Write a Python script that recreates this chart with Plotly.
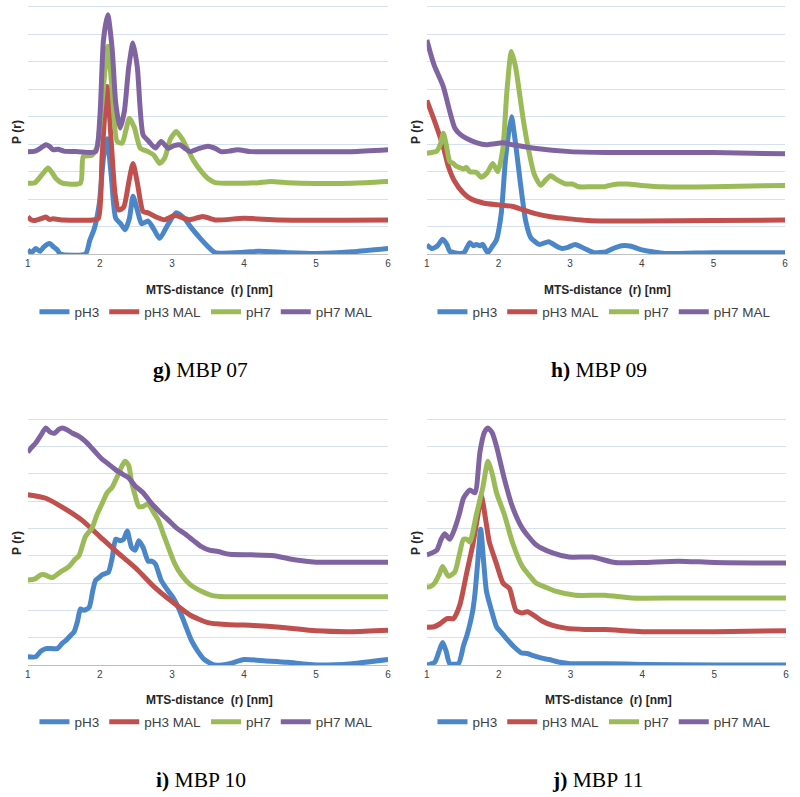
import plotly.graph_objects as go

series_names = ["pH3", "pH3 MAL", "pH7", "pH7 MAL"]
series_colors = ["#4A86C8", "#C0504D", "#9BBB59", "#8064A2"]
x_ticks = [1, 2, 3, 4, 5, 6]

# ---- g) MBP 07 ----
g_pH3_x = [1.0, 1.05, 1.11, 1.17, 1.22, 1.3, 1.36, 1.41, 1.45, 1.8, 1.86, 1.92, 1.99, 2.05, 2.1, 2.16, 2.22, 2.29, 2.35, 2.41, 2.46, 2.52, 2.58, 2.67, 2.75, 2.83, 2.95, 3.06, 3.17, 3.27, 3.4, 3.5, 3.6, 4.0, 4.2, 4.6, 5.0, 5.5, 6.0]
g_pH3_y = [0.15, 0.05, 0.2, 0.1, 0.25, 0.38, 0.25, 0.15, 0.0, 0.0, 0.5, 0.9, 1.8, 3.5, 4.2, 2.8, 1.3, 1.1, 0.88, 1.3, 2.1, 1.6, 1.1, 1.2, 0.9, 0.57, 1.1, 1.5, 1.3, 0.95, 0.55, 0.27, 0.05, 0.06, 0.1, 0.05, 0.02, 0.08, 0.2]
g_pH3MAL_x = [1.0, 1.05, 1.1, 1.2, 1.25, 1.3, 1.35, 1.5, 1.9, 1.98, 2.03, 2.1, 2.16, 2.21, 2.26, 2.33, 2.4, 2.46, 2.52, 2.6, 2.67, 2.78, 2.9, 3.04, 3.15, 3.25, 3.43, 3.6, 4.0, 4.5, 6.0]
g_pH3MAL_y = [1.36, 1.24, 1.22, 1.3, 1.35, 1.26, 1.28, 1.24, 1.24, 1.3, 3.5, 6.1, 4.0, 2.2, 1.6, 1.7, 2.6, 3.3, 2.6, 1.55, 1.5, 1.35, 1.25, 1.4, 1.32, 1.25, 1.37, 1.24, 1.3, 1.24, 1.24]
g_pH7_x = [1.0, 1.1, 1.2, 1.28, 1.34, 1.39, 1.48, 1.73, 1.77, 1.89, 1.96, 2.03, 2.11, 2.17, 2.24, 2.31, 2.36, 2.41, 2.48, 2.56, 2.67, 2.75, 2.83, 2.9, 2.98, 3.06, 3.14, 3.22, 3.3, 3.41, 3.5, 3.6, 4.0, 4.2, 4.37, 4.6, 4.8, 5.5, 6.0]
g_pH7_y = [2.58, 2.6, 2.9, 3.13, 2.95, 2.75, 2.58, 2.58, 3.55, 3.6, 3.9, 5.5, 7.57, 6.0, 4.1, 4.04, 4.5, 4.95, 4.6, 3.86, 3.73, 3.6, 3.3, 3.5, 4.2, 4.46, 4.2, 3.8, 3.4, 3.0, 2.75, 2.6, 2.58, 2.6, 2.64, 2.6, 2.58, 2.58, 2.64]
g_pH7MAL_x = [1.0, 1.1, 1.2, 1.25, 1.3, 1.35, 1.42, 1.5, 1.7, 1.94, 2.0, 2.05, 2.11, 2.17, 2.22, 2.28, 2.34, 2.4, 2.46, 2.52, 2.6, 2.68, 2.77, 2.85, 2.95, 3.03, 3.11, 3.18, 3.25, 3.38, 3.5, 3.6, 3.68, 3.8, 3.91, 4.1, 4.5, 5.0, 5.5, 6.0]
g_pH7MAL_y = [3.73, 3.75, 3.9, 3.98, 3.92, 3.8, 3.82, 3.75, 3.73, 3.73, 5.0, 7.8, 8.72, 7.5, 5.5, 4.59, 5.2, 6.8, 7.69, 6.8, 4.34, 4.1, 3.86, 4.1, 3.85, 3.95, 3.98, 3.85, 3.73, 3.85, 3.93, 3.85, 3.73, 3.75, 3.8, 3.73, 3.73, 3.73, 3.73, 3.8]

# ---- h) MBP 09 ----
h_pH3_x = [1.0, 1.07, 1.15, 1.22, 1.28, 1.32, 1.45, 1.52, 1.6, 1.65, 1.69, 1.74, 1.78, 1.85, 1.92, 1.97, 2.04, 2.1, 2.18, 2.24, 2.31, 2.38, 2.45, 2.57, 2.7, 2.8, 2.89, 2.98, 3.07, 3.2, 3.33, 3.5, 3.6, 3.72, 3.85, 4.0, 4.15, 4.32, 5.0, 6.0]
h_pH3_y = [0.33, 0.2, 0.3, 0.54, 0.35, 0.1, 0.02, 0.05, 0.41, 0.3, 0.35, 0.3, 0.35, 0.05, 0.3, 0.5, 1.5, 3.5, 5.0, 4.0, 2.5, 1.2, 0.6, 0.35, 0.45, 0.3, 0.2, 0.25, 0.35, 0.2, 0.05, 0.08, 0.2, 0.3, 0.28, 0.15, 0.08, 0.02, 0.05, 0.05]
h_pH3MAL_x = [1.0, 1.1, 1.23, 1.3, 1.39, 1.5, 1.6, 1.8, 2.0, 2.2, 2.35, 2.5, 2.75, 3.0, 3.25, 3.5, 4.0, 5.0, 6.0]
h_pH3MAL_y = [5.6, 4.9, 3.9, 3.2, 2.64, 2.25, 2.03, 1.85, 1.79, 1.73, 1.6, 1.48, 1.35, 1.28, 1.22, 1.2, 1.2, 1.22, 1.24]
h_pH7_x = [1.0, 1.07, 1.14, 1.19, 1.23, 1.27, 1.32, 1.37, 1.41, 1.46, 1.51, 1.55, 1.6, 1.69, 1.76, 1.84, 1.92, 1.99, 2.06, 2.12, 2.18, 2.24, 2.34, 2.42, 2.5, 2.59, 2.66, 2.73, 2.82, 2.94, 3.03, 3.12, 3.3, 3.48, 3.55, 3.67, 3.8, 4.0, 4.3, 5.0, 6.0]
h_pH7_y = [3.67, 3.7, 3.75, 4.0, 4.4, 4.0, 3.37, 3.3, 3.2, 3.15, 3.1, 3.15, 3.0, 2.98, 2.8, 2.95, 3.3, 3.0, 3.8, 6.0, 7.38, 6.8, 5.0, 3.8, 2.9, 2.5, 2.7, 2.85, 2.7, 2.55, 2.55, 2.45, 2.45, 2.45, 2.5, 2.55, 2.55, 2.5, 2.45, 2.45, 2.5]
h_pH7MAL_x = [1.0, 1.1, 1.23, 1.32, 1.39, 1.47, 1.55, 1.7, 1.83, 1.95, 2.06, 2.2, 2.5, 3.0, 3.5, 4.0, 5.0, 6.0]
h_pH7MAL_y = [7.8, 6.9, 6.1, 5.2, 4.59, 4.35, 4.22, 4.05, 3.98, 4.02, 4.05, 3.98, 3.85, 3.73, 3.7, 3.7, 3.7, 3.65]

# ---- i) MBP 10 ----
i_pH3_x = [1.0, 1.11, 1.18, 1.25, 1.33, 1.41, 1.48, 1.53, 1.6, 1.64, 1.69, 1.73, 1.78, 1.85, 1.9, 1.94, 1.99, 2.03, 2.08, 2.12, 2.17, 2.22, 2.28, 2.33, 2.38, 2.44, 2.49, 2.54, 2.6, 2.67, 2.72, 2.77, 2.85, 2.95, 3.02, 3.09, 3.18, 3.27, 3.36, 3.45, 3.59, 3.8, 4.0, 4.3, 4.6, 5.0, 5.5, 6.0]
i_pH3_y = [0.3, 0.3, 0.5, 0.6, 0.6, 0.6, 0.8, 0.9, 1.1, 1.2, 1.6, 2.05, 2.0, 2.1, 2.7, 3.1, 3.2, 3.3, 3.35, 3.4, 3.9, 4.6, 4.55, 4.6, 4.9, 4.3, 4.2, 4.55, 4.3, 3.8, 3.8, 3.7, 3.1, 2.7, 2.45, 2.1, 1.5, 0.9, 0.5, 0.2, 0.0, 0.05, 0.2, 0.15, 0.1, 0.0, 0.05, 0.2]
i_pH3MAL_x = [1.0, 1.25, 1.5, 1.75, 2.0, 2.25, 2.5, 2.75, 3.0, 3.25, 3.5, 3.75, 4.0, 4.5, 5.0, 5.5, 6.0]
i_pH3MAL_y = [6.23, 6.1, 5.74, 5.3, 4.7, 4.1, 3.54, 2.87, 2.32, 1.83, 1.55, 1.48, 1.46, 1.38, 1.25, 1.22, 1.27]
i_pH7_x = [1.0, 1.1, 1.18, 1.23, 1.34, 1.45, 1.57, 1.65, 1.71, 1.8, 1.89, 1.96, 2.03, 2.1, 2.17, 2.26, 2.31, 2.35, 2.4, 2.44, 2.49, 2.54, 2.6, 2.67, 2.74, 2.81, 2.88, 2.95, 3.04, 3.13, 3.25, 3.41, 3.55, 3.73, 4.5, 5.0, 6.0]
i_pH7_y = [3.11, 3.15, 3.3, 3.3, 3.2, 3.4, 3.6, 3.85, 4.0, 4.7, 5.0, 5.5, 5.9, 6.3, 6.5, 7.0, 7.3, 7.45, 7.3, 6.7, 6.2, 5.8, 5.8, 5.9, 5.6, 5.3, 4.8, 4.3, 3.7, 3.3, 2.95, 2.7, 2.55, 2.5, 2.5, 2.5, 2.5]
i_pH7MAL_x = [1.0, 1.05, 1.11, 1.18, 1.25, 1.31, 1.37, 1.43, 1.48, 1.55, 1.62, 1.7, 1.8, 1.9, 2.03, 2.12, 2.22, 2.33, 2.4, 2.49, 2.6, 2.72, 2.83, 2.95, 3.07, 3.18, 3.3, 3.41, 3.52, 3.64, 3.8, 4.1, 4.42, 4.7, 5.0, 5.5, 6.0]
i_pH7MAL_y = [7.78, 7.95, 8.12, 8.4, 8.67, 8.52, 8.48, 8.62, 8.67, 8.6, 8.48, 8.38, 8.18, 7.9, 7.53, 7.35, 7.14, 6.96, 6.85, 6.55, 6.3, 5.9, 5.6, 5.3, 5.0, 4.8, 4.55, 4.33, 4.2, 4.15, 4.05, 4.03, 4.0, 3.85, 3.76, 3.76, 3.76]

# ---- j) MBP 11 ----
j_pH3_x = [1.0, 1.11, 1.17, 1.22, 1.27, 1.32, 1.44, 1.51, 1.56, 1.6, 1.64, 1.67, 1.71, 1.75, 1.79, 1.83, 1.9, 1.97, 2.05, 2.13, 2.22, 2.31, 2.4, 2.47, 2.6, 2.7, 2.85, 3.0, 3.5, 4.0, 5.0, 6.0]
j_pH3_y = [0.0, 0.1, 0.5, 0.82, 0.5, 0.05, 0.05, 0.7, 1.1, 1.5, 2.0, 2.6, 3.8, 4.97, 3.8, 2.7, 2.0, 1.4, 1.15, 0.9, 0.65, 0.45, 0.42, 0.35, 0.25, 0.2, 0.1, 0.05, 0.05, 0.02, 0.0, 0.0]
j_pH3MAL_x = [1.0, 1.1, 1.18, 1.28, 1.37, 1.46, 1.55, 1.64, 1.7, 1.76, 1.82, 1.87, 1.97, 2.06, 2.15, 2.24, 2.32, 2.4, 2.5, 2.61, 2.75, 2.93, 3.2, 3.48, 4.0, 5.0, 6.0]
j_pH3MAL_y = [1.38, 1.4, 1.5, 1.7, 1.7, 2.2, 3.3, 4.4, 5.3, 6.17, 5.3, 4.5, 3.7, 3.0, 2.8, 2.0, 1.9, 1.95, 1.8, 1.6, 1.45, 1.35, 1.3, 1.3, 1.22, 1.22, 1.25]
j_pH7_x = [1.0, 1.05, 1.11, 1.17, 1.22, 1.3, 1.39, 1.45, 1.51, 1.56, 1.6, 1.69, 1.78, 1.85, 1.91, 1.97, 2.08, 2.19, 2.33, 2.42, 2.52, 2.65, 2.79, 3.07, 3.48, 3.85, 4.5, 5.0, 6.0]
j_pH7_y = [2.85, 2.87, 3.0, 3.3, 3.6, 3.25, 3.4, 4.0, 4.6, 4.6, 4.5, 5.5, 6.5, 7.45, 7.0, 6.3, 5.5, 4.5, 3.6, 3.3, 3.0, 2.85, 2.7, 2.55, 2.55, 2.45, 2.45, 2.45, 2.45]
j_pH7MAL_x = [1.0, 1.07, 1.14, 1.2, 1.25, 1.32, 1.39, 1.45, 1.51, 1.56, 1.6, 1.67, 1.74, 1.8, 1.85, 1.91, 1.97, 2.08, 2.19, 2.33, 2.52, 2.75, 2.98, 3.3, 3.62, 4.0, 4.5, 5.0, 6.0]
j_pH7MAL_y = [4.03, 4.1, 4.2, 4.6, 4.8, 4.6, 5.0, 5.5, 6.1, 6.3, 6.4, 6.3, 7.8, 8.5, 8.67, 8.5, 8.0, 6.8, 5.8, 5.0, 4.4, 4.1, 3.95, 3.95, 3.75, 3.75, 3.8, 3.75, 3.73]

panel_labels = [("g)", "MBP 07"), ("h)", "MBP 09"), ("i)", "MBP 10"), ("j)", "MBP 11")]
panels = [
    [(g_pH3_x, g_pH3_y), (g_pH3MAL_x, g_pH3MAL_y), (g_pH7_x, g_pH7_y), (g_pH7MAL_x, g_pH7MAL_y)],
    [(h_pH3_x, h_pH3_y), (h_pH3MAL_x, h_pH3MAL_y), (h_pH7_x, h_pH7_y), (h_pH7MAL_x, h_pH7MAL_y)],
    [(i_pH3_x, i_pH3_y), (i_pH3MAL_x, i_pH3MAL_y), (i_pH7_x, i_pH7_y), (i_pH7MAL_x, i_pH7MAL_y)],
    [(j_pH3_x, j_pH3_y), (j_pH3MAL_x, j_pH3MAL_y), (j_pH7_x, j_pH7_y), (j_pH7MAL_x, j_pH7MAL_y)],
]

W, H = 800, 797
Y_TOP = 9.05
# pixel boxes: (left, right, top gridline (=9), bottom)
boxes = [(25, 388, 7, 254), (427, 788, 7, 254), (25, 388, 419, 665), (427, 789, 419, 665)]
title_y = [290, 290, 700, 700]
legend_y = [312, 312, 722, 722]
caption_y = [370, 370, 780, 780]
caption_x = [199, 600, 199, 599]
ylabel_y = [132, 132, 543, 543]

fig = go.Figure()
annotations = []
layout = {}
for k, (box, data) in enumerate(zip(boxes, panels)):
    l, r, t, b = box
    unit = (b - t) / 9.0
    top_px = b - Y_TOP * unit
    sfx = "" if k == 0 else str(k + 1)
    xa, ya = "x" + sfx, "y" + sfx
    leg = "legend" + sfx
    for (xs, ys), name, col in zip(data, series_names, series_colors):
        fig.add_trace(go.Scatter(x=xs, y=ys, name=name, mode="lines",
                                 line=dict(color=col, width=5, shape="spline", smoothing=0.6),
                                 xaxis=xa, yaxis=ya, legend=leg, showlegend=True))
    layout["xaxis" + sfx] = dict(domain=[l / W, r / W], range=[1, 6], tickvals=x_ticks,
                                 showgrid=False, zeroline=False, showline=True, linecolor="#BFBFBF",
                                 linewidth=1, ticks="", tickfont=dict(family="Liberation Sans", size=10, color="#404040"),
                                 anchor=ya, fixedrange=True)
    layout["yaxis" + sfx] = dict(domain=[1 - b / H, 1 - top_px / H], range=[0, Y_TOP], dtick=1,
                                 showgrid=True, gridcolor="#D6E1F0", gridwidth=1.2, zeroline=False,
                                 showticklabels=False, showline=False, anchor=xa, fixedrange=True)
    layout[leg] = dict(orientation="h", x=205 / W if k % 2 == 0 else 606 / W, xanchor="center",
                       y=1 - legend_y[k] / H, yanchor="middle",
                       font=dict(family="Liberation Sans", size=13.5, color="#404040"),
                       bgcolor="rgba(0,0,0,0)", itemwidth=30, tracegroupgap=0)
    cx = (l + r) / 2
    annotations.append(dict(text="<b>MTS-distance  (r) [nm]</b>", x=(cx + 2) / W, y=1 - title_y[k] / H,
                            xref="paper", yref="paper", showarrow=False, xanchor="center", yanchor="middle",
                            font=dict(family="Liberation Sans", size=12, color="#262626")))
    annotations.append(dict(text="<b>P (r)</b>", x=(l - 11) / W, y=1 - ylabel_y[k] / H,
                            xref="paper", yref="paper", showarrow=False, textangle=-90,
                            xanchor="center", yanchor="middle",
                            font=dict(family="Liberation Sans", size=12, color="#262626")))
    lab, name = panel_labels[k]
    annotations.append(dict(text="<b>" + lab + "</b> " + name, x=caption_x[k] / W, y=1 - caption_y[k] / H,
                            xref="paper", yref="paper", showarrow=False, xanchor="center", yanchor="middle",
                            font=dict(family="Liberation Serif", size=21.5, color="#000000")))

fig.update_layout(width=W, height=H, margin=dict(l=0, r=0, t=0, b=0),
                  paper_bgcolor="white", plot_bgcolor="white",
                  annotations=annotations, **layout)
fig.write_html("out.html", config={"displayModeBar": False},
               post_script="document.body.style.margin='0px';document.body.style.padding='0px';")
